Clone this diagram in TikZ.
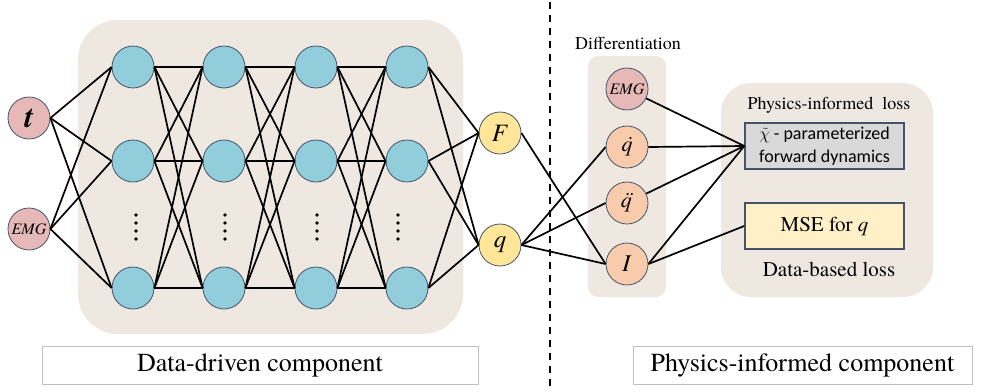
\documentclass[tikz,border=0pt]{standalone}
\usepackage{xcolor}
\usepackage{amsmath, amssymb}
\usepackage{fontspec}
\setmainfont{texgyretermes}[Extension=.otf, UprightFont=*-regular, BoldFont=*-bold, ItalicFont=*-italic, BoldItalicFont=*-bolditalic]
\newfontfamily\chifont{Carlito}
\usepackage{tikz}

\definecolor{panel}{RGB}{238,232,225}
\definecolor{rim}{RGB}{68,84,106}
\definecolor{hid}{RGB}{146,205,220}
\definecolor{inp}{RGB}{230,185,184}
\definecolor{outp}{RGB}{255,230,153}
\definecolor{deriv}{RGB}{248,203,173}
\definecolor{lossgray}{RGB}{217,217,217}
\definecolor{lossyel}{RGB}{255,240,200}
\definecolor{capline}{RGB}{191,191,191}

\tikzset{
  unit/.style={circle,draw=rim,line width=0.8pt,minimum size=42pt,inner sep=0pt},
  neuron/.style={unit,fill=hid},
  inode/.style={unit,fill=inp},
  onode/.style={unit,fill=outp},
  dnode/.style={unit,fill=deriv},
  wire/.style={line width=1.7pt,black},
  lossbox/.style={draw=rim,line width=1.5pt,minimum width=159pt,minimum height=46pt,inner sep=2pt},
  capbox/.style={draw=capline,line width=0.7pt,minimum height=38pt,font=\fontsize{26}{30}\selectfont}
}

\begin{document}
\begin{tikzpicture}[x=1pt,y=-1pt]
\useasboundingbox (0,0) rectangle (993,391);
%Panels
\fill[panel,rounded corners=40] (78,20) rectangle (463,334);
\fill[panel,rounded corners=10] (588,56) rectangle (666,297);
\fill[panel,rounded corners=30] (721,83) rectangle (933,297);
\draw[line width=1.8pt,dash pattern=on 7pt off 6pt] (550,2) -- (550,391);
%Network
\node[inode] (t) at (29,118) {\fontsize{31}{31}\selectfont\textbf{\textit{t}}};
\node[inode] (emg) at (29,229) {\fontsize{16}{16}\selectfont\textit{EMG}};
\foreach \x [count=\i] in {133,224,316,407} {
  \node[neuron] (h\i1) at (\x,67) {};
  \node[neuron] (h\i2) at (\x,161) {};
  \node[neuron] (h\i3) at (\x,288) {};
}
\foreach \x in {136,225,317,398}
  \foreach \d in {0,1,2,3}
    \fill (\x,215+8*\d) circle (1.8);
\node[onode] (F) at (500,133) {\fontsize{25}{25}\selectfont\textit{F}};
\node[onode] (q) at (500,245) {\fontsize{25}{25}\selectfont\textit{q}};
\foreach \a in {t,emg}
  \foreach \j in {1,2,3}
    \draw[wire] (\a.east) -- (h1\j.west);
\foreach \i/\k in {1/2,2/3,3/4}
  \foreach \j in {1,2,3}
    \foreach \l in {1,2,3}
      \draw[wire] (h\i\j.east) -- (h\k\l.west);
\foreach \j in {1,2,3}
  \foreach \o in {F,q}
    \draw[wire] (h4\j.east) -- (\o.west);
%Differentiation
\node[inode] (emgd) at (627,89) {\fontsize{16}{16}\selectfont\textit{EMG}};
\node[dnode] (dq) at (627,147) {\fontsize{22}{22}\selectfont\textit{\.{q}}};
\node[dnode] (ddq) at (627,203) {\fontsize{22}{22}\selectfont\textit{\"{q}}};
\node[dnode] (I) at (627,264) {\fontsize{24}{24}\selectfont\textit{I}};
\draw[wire] (F.east) -- (I.west);
\foreach \d in {dq,ddq,I}
  \draw[wire] (q.east) -- (\d.west);
%Loss
\node[lossbox,fill=lossgray,align=center,font=\chifont\fontsize{18}{23}\selectfont] (chi) at (824.5,146)
  {$\tilde{\chi}$ - parameterized\\forward dynamics};
\node[lossbox,fill=lossyel,font=\fontsize{21}{21}\selectfont] (mse) at (824.5,226) {MSE for \textit{q}};
\draw[wire] (emgd) -- (chi.west);
\draw[wire] (dq.east) -- (chi.west);
\draw[wire] (ddq) -- (chi.west);
\draw[wire] (I.east) -- (chi.west);
\draw[wire] (I.east) -- (mse.west);
%Text
\node[font=\fontsize{18}{18}\selectfont] (diff) at (628,43) {Differentiation};
\node[font=\fontsize{18}{18}\selectfont] (pil) at (829,105) {Physics-informed\ \ loss};
\node[font=\fontsize{21}{21}\selectfont] (dbl) at (829,269) {Data-based loss};
\node[capbox,minimum width=436pt] (ddc) at (260,365) {Data-driven component};
\node[capbox,minimum width=339pt] (pic) at (802.5,365) {Physics-informed component};
\end{tikzpicture}
\end{document}
